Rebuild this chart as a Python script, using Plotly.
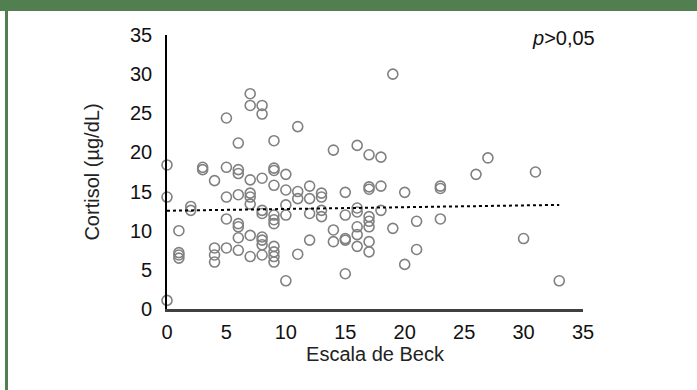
import plotly.graph_objects as go

# Data (Escala de Beck vs Cortisol µg/dL)
beck = (
    [0]*3 + [1]*4 + [2]*2 + [3]*2 + [4]*4 + [5]*5 + [6]*8 + [7]*8 + [8]*9 +
    [9]*11 + [10]*5 + [11]*4 + [12]*4 + [13]*4 + [14]*3 + [15]*5 + [16]*6 +
    [17]*8 + [18]*3 + [19]*2 + [20]*2 + [21]*2 + [23]*3 + [26] + [27] + [30] + [31] + [33]
)
cortisol = [
    1.1, 14.3, 18.4,
    10.0, 7.2, 6.9, 6.5,
    13.1, 12.6,
    18.1, 17.8,
    16.4, 7.8, 6.9, 6.0,
    24.4, 18.1, 14.3, 11.5, 7.8,
    21.2, 17.8, 17.3, 14.6, 10.9, 10.5, 9.1, 7.5,
    27.5, 26.0, 16.5, 14.8, 14.3, 13.4, 9.4, 6.7,
    26.0, 24.9, 16.7, 12.6, 12.2, 9.2, 8.8, 8.2, 6.9,
    21.5, 18.0, 17.7, 15.8, 12.0, 11.4, 10.9, 8.0, 7.3, 6.7, 6.0,
    17.2, 15.2, 13.3, 12.0, 3.6,
    23.3, 15.0, 14.1, 7.0,
    15.7, 14.1, 12.2, 8.8,
    14.8, 14.3, 12.6, 11.8,
    20.3, 10.1, 8.6,
    14.9, 12.0, 9.0, 8.8, 4.5,
    20.9, 12.9, 12.4, 10.5, 9.5, 8.0,
    19.7, 15.6, 15.3, 11.8, 11.2, 10.5, 8.6, 7.3,
    19.4, 15.7, 12.6,
    30.0, 10.3,
    14.9, 5.7,
    11.2, 7.6,
    15.7, 15.4, 11.5,
    17.2,
    19.3,
    9.0,
    17.5,
    3.6,
]
trend_x = [0, 33]
trend_y = [12.55, 13.3]
x_ticks = [0, 5, 10, 15, 20, 25, 30, 35]
y_ticks = [0, 5, 10, 15, 20, 25, 30, 35]

FONT = "Liberation Sans, Arial, sans-serif"
GREEN = "#517f50"

fig = go.Figure()
fig.add_trace(go.Scatter(
    x=beck, y=cortisol, mode="markers", cliponaxis=False,
    marker=dict(symbol="circle-open", size=10, color="#808080", line=dict(width=1.6, color="#808080")),
    showlegend=False, hoverinfo="x+y",
))
fig.add_trace(go.Scatter(
    x=trend_x, y=trend_y, mode="lines", cliponaxis=False,
    line=dict(color="black", width=2, dash="dot"),
    showlegend=False, hoverinfo="skip",
))

fig.update_layout(
    width=697, height=390,
    margin=dict(l=167, r=114, t=35, b=81, autoexpand=False),
    paper_bgcolor="white", plot_bgcolor="white",
    font=dict(family=FONT, size=20, color="#111111"),
    xaxis=dict(
        range=[0, 35], tickvals=x_ticks, ticktext=[str(v) for v in x_ticks],
        showgrid=False, zeroline=False, showline=True, linecolor="#404040", linewidth=2.5,
        ticks="", ticklabelstandoff=3,
        title=dict(text="Escala de Beck", font=dict(size=20, color="#222222"), standoff=5),
        fixedrange=True,
    ),
    yaxis=dict(
        range=[0, 35], tickvals=y_ticks, ticktext=[str(v) for v in y_ticks],
        showgrid=False, zeroline=False, showline=True, linecolor="black", linewidth=1.6,
        ticks="", ticklabelstandoff=9,
        title=dict(text="Cortisol (µg/dL)", font=dict(size=20, color="#222222"), standoff=25),
        fixedrange=True,
    ),
    annotations=[dict(
        text="<i>p</i>>0,05", xref="paper", yref="paper", x=(597-167)/416, y=(309-38)/274,
        xanchor="right", yanchor="middle", showarrow=False, font=dict(size=20, color="#111111"),
    )],
    shapes=[
        dict(type="rect", xref="paper", yref="paper", x0=-1, x1=2,
             y0=(309-11)/274, y1=(309+5)/274, fillcolor=GREEN, line=dict(width=0), layer="above"),
        dict(type="rect", xref="paper", yref="paper", x0=(5-167)/416, x1=(8-167)/416,
             y0=(309-400)/274, y1=(309-5)/274, fillcolor=GREEN, line=dict(width=0), layer="above"),
    ],
)

fig.write_html(
    "out.html",
    config={"displayModeBar": False},
    post_script="document.body.style.margin='0';document.body.style.overflow='hidden';",
)
